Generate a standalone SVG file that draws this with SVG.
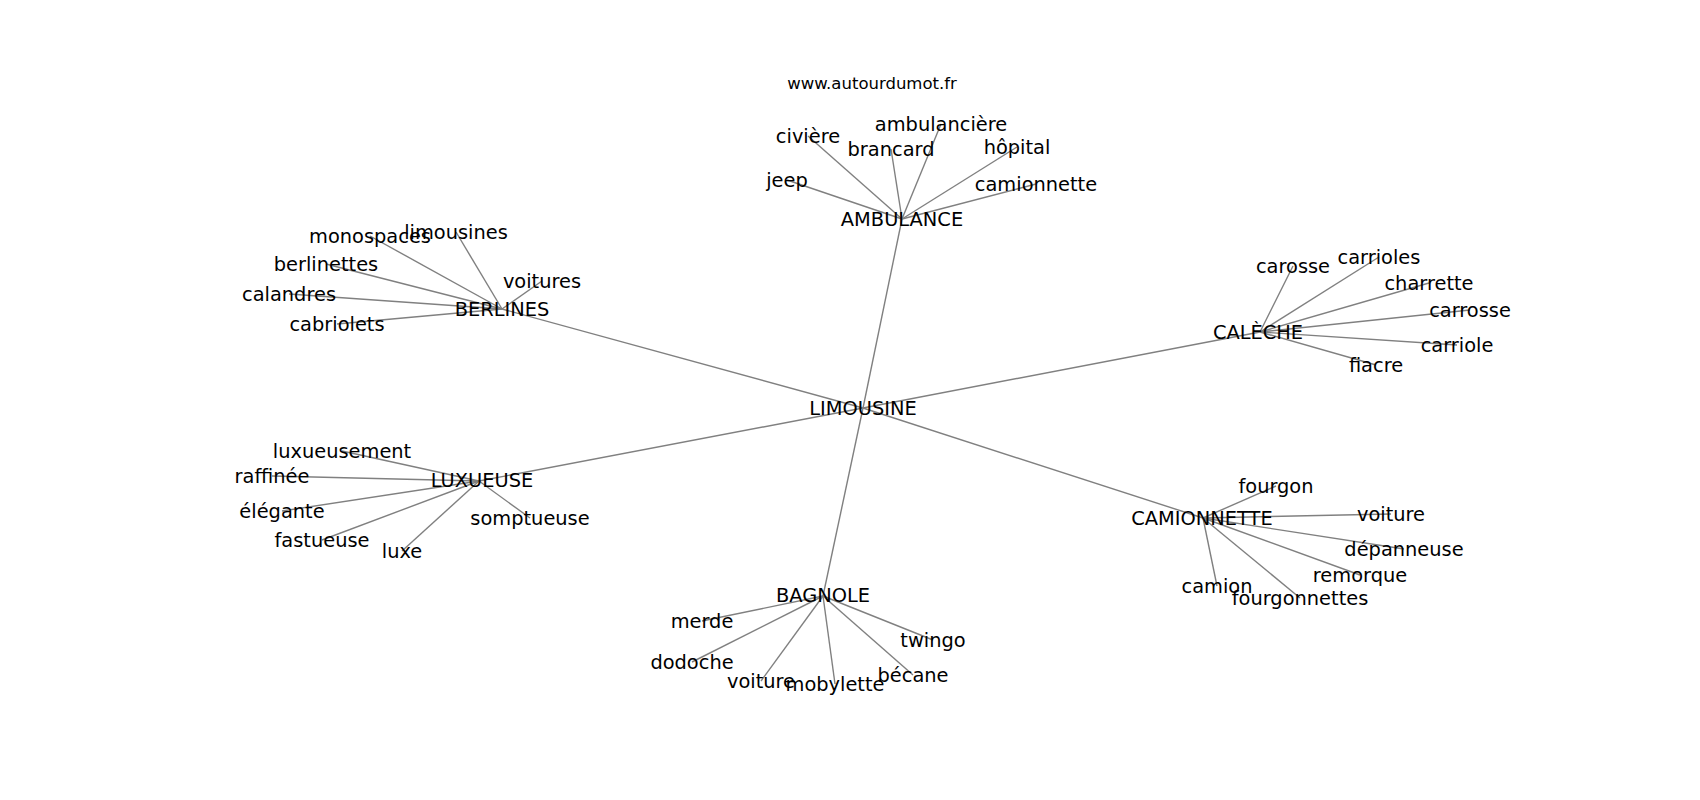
<svg xmlns="http://www.w3.org/2000/svg" width="1700" height="800" viewBox="0 0 1700 800">
<style>
text{font-family:"DejaVu Sans","Liberation Sans",sans-serif;font-size:19.4px;fill:#000;text-anchor:middle}
.title{font-size:16.5px}
#edges line{stroke:#808080;stroke-width:1.4}
</style>
<rect width="1700" height="800" fill="#fff"/>
<g id="edges">
<line x1="863" y1="408" x2="902" y2="219"/>
<line x1="863" y1="408" x2="502" y2="309"/>
<line x1="863" y1="408" x2="1260" y2="332"/>
<line x1="863" y1="408" x2="479" y2="481"/>
<line x1="863" y1="408" x2="1203" y2="518"/>
<line x1="863" y1="408" x2="823" y2="596"/>
<line x1="902" y1="219" x2="787" y2="180"/>
<line x1="902" y1="219" x2="808" y2="136"/>
<line x1="902" y1="219" x2="891" y2="149"/>
<line x1="902" y1="219" x2="941" y2="124"/>
<line x1="902" y1="219" x2="1017" y2="147"/>
<line x1="902" y1="219" x2="1036" y2="184"/>
<line x1="502" y1="309" x2="370" y2="236"/>
<line x1="502" y1="309" x2="456" y2="232"/>
<line x1="502" y1="309" x2="326" y2="264"/>
<line x1="502" y1="309" x2="542" y2="281"/>
<line x1="502" y1="309" x2="289" y2="294"/>
<line x1="502" y1="309" x2="337" y2="324"/>
<line x1="1260" y1="332" x2="1293" y2="266"/>
<line x1="1260" y1="332" x2="1379" y2="257"/>
<line x1="1260" y1="332" x2="1429" y2="283"/>
<line x1="1260" y1="332" x2="1470" y2="310"/>
<line x1="1260" y1="332" x2="1457" y2="345"/>
<line x1="1260" y1="332" x2="1376" y2="365"/>
<line x1="479" y1="481" x2="342" y2="451"/>
<line x1="479" y1="481" x2="272" y2="476"/>
<line x1="479" y1="481" x2="282" y2="511"/>
<line x1="479" y1="481" x2="322" y2="540"/>
<line x1="479" y1="481" x2="402" y2="551"/>
<line x1="479" y1="481" x2="530" y2="518"/>
<line x1="1203" y1="518" x2="1276" y2="486"/>
<line x1="1203" y1="518" x2="1391" y2="514"/>
<line x1="1203" y1="518" x2="1404" y2="549"/>
<line x1="1203" y1="518" x2="1360" y2="575"/>
<line x1="1203" y1="518" x2="1217" y2="586"/>
<line x1="1203" y1="518" x2="1300" y2="598"/>
<line x1="823" y1="596" x2="702" y2="621"/>
<line x1="823" y1="596" x2="692" y2="662"/>
<line x1="823" y1="596" x2="761" y2="681"/>
<line x1="823" y1="596" x2="835" y2="684"/>
<line x1="823" y1="596" x2="913" y2="675"/>
<line x1="823" y1="596" x2="933" y2="640"/>
</g>
<text class="title" x="872" y="89">www.autourdumot.fr</text>
<g id="n-limousine"><text x="863" y="414.6">LIMOUSINE</text></g>
<g id="n-ambulance"><text x="902" y="226">AMBULANCE</text></g>
<g id="n-berlines"><text x="502" y="315.6">BERLINES</text></g>
<g id="n-caleche"><text x="1258" y="338.6">CALÈCHE</text></g>
<g id="n-luxueuse"><text x="482" y="487.4">LUXUEUSE</text></g>
<g id="n-camionnette-hub"><text x="1202" y="524.6">CAMIONNETTE</text></g>
<g id="n-bagnole"><text x="823" y="601.6">BAGNOLE</text></g>
<g id="n-jeep"><text x="787" y="186.6">jeep</text></g>
<g id="n-civiere"><text x="808" y="142.6">civière</text></g>
<g id="n-brancard"><text x="891" y="155.6">brancard</text></g>
<g id="n-ambulanciere"><text x="941" y="130.6">ambulancière</text></g>
<g id="n-hopital"><text x="1017" y="153.6">hôpital</text></g>
<g id="n-camionnette"><text x="1036" y="190.6">camionnette</text></g>
<g id="n-monospaces"><text x="370" y="242.6">monospaces</text></g>
<g id="n-limousines"><text x="456" y="238.6">limousines</text></g>
<g id="n-berlinettes"><text x="326" y="270.6">berlinettes</text></g>
<g id="n-voitures"><text x="542" y="287.6">voitures</text></g>
<g id="n-calandres"><text x="289" y="300.6">calandres</text></g>
<g id="n-cabriolets"><text x="337" y="330.6">cabriolets</text></g>
<g id="n-carosse"><text x="1293" y="272.6">carosse</text></g>
<g id="n-carrioles"><text x="1379" y="263.6">carrioles</text></g>
<g id="n-charrette"><text x="1429" y="289.6">charrette</text></g>
<g id="n-carrosse"><text x="1470" y="316.6">carrosse</text></g>
<g id="n-carriole"><text x="1457" y="351.6">carriole</text></g>
<g id="n-fiacre"><text x="1376" y="371.6">fiacre</text></g>
<g id="n-luxueusement"><text x="342" y="457.6">luxueusement</text></g>
<g id="n-raffinee"><text x="272" y="482.6">raffinée</text></g>
<g id="n-elegante"><text x="282" y="517.6">élégante</text></g>
<g id="n-fastueuse"><text x="322" y="546.6">fastueuse</text></g>
<g id="n-luxe"><text x="402" y="557.6">luxe</text></g>
<g id="n-somptueuse"><text x="530" y="524.6">somptueuse</text></g>
<g id="n-fourgon"><text x="1276" y="492.6">fourgon</text></g>
<g id="n-voiture2"><text x="1391" y="520.6">voiture</text></g>
<g id="n-depanneuse"><text x="1404" y="555.6">dépanneuse</text></g>
<g id="n-remorque"><text x="1360" y="581.6">remorque</text></g>
<g id="n-camion"><text x="1217" y="592.6">camion</text></g>
<g id="n-fourgonnettes"><text x="1300" y="604.6">fourgonnettes</text></g>
<g id="n-merde"><text x="702" y="627.6">merde</text></g>
<g id="n-dodoche"><text x="692" y="668.6">dodoche</text></g>
<g id="n-voiture1"><text x="761" y="687.6">voiture</text></g>
<g id="n-mobylette"><text x="835" y="690.6">mobylette</text></g>
<g id="n-becane"><text x="913" y="681.6">bécane</text></g>
<g id="n-twingo"><text x="933" y="646.6">twingo</text></g>
</svg>
